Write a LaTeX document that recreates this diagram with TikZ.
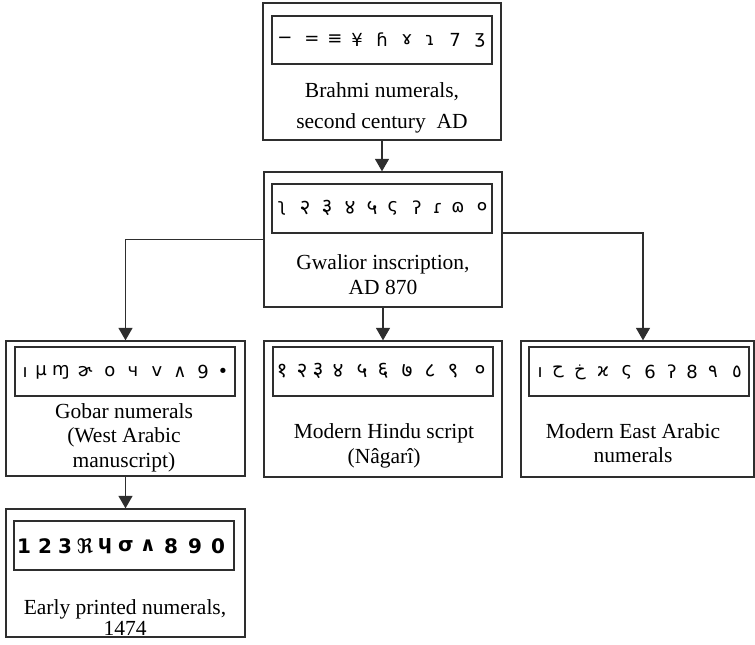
\documentclass[tikz,border=0pt]{standalone}
\usepackage{fontspec}
\setmainfont{Liberation Serif}
\newfontfamily\dvfont[Script=Devanagari]{Noto Sans}
\newfontfamily\djfont{DejaVu Sans}
\newfontfamily\arfont[Script=Arabic]{DejaVu Sans}
\usetikzlibrary{arrows.meta}
\definecolor{ln}{HTML}{2E2E2E}
\tikzset{
  box/.style={draw=ln, line width=1.3pt, inner sep=0pt},
  lbl/.style={anchor=base, inner sep=0pt, font=\fontsize{21.5}{24}\selectfont},
  glyph/.style={inner sep=0pt, font=\djfont\fontsize{18}{20}\selectfont},
  dglyph/.style={inner sep=0pt, font=\dvfont\fontsize{21}{22}\selectfont},
  aglyph/.style={inner sep=0pt, font=\arfont\fontsize{18}{20}\selectfont},
  eglyph/.style={inner sep=0pt, font=\djfont\bfseries\fontsize{20}{22}\selectfont},
  arr/.style={draw=ln, line width=1.3pt, -{Triangle[length=12.5pt,width=14pt]}}
}
\begin{document}
\begin{tikzpicture}[x=1pt,y=-1pt]
\useasboundingbox (0,0) rectangle (755,645);

% --- Brahmi
\node[box, minimum width=238pt, minimum height=137pt] (b1) at (382,71.5) {};
\node[box, minimum width=220pt, minimum height=48pt] (b1i) at (382,40) {};
\foreach \x/\g [count=\i] in {285/{−},312/{=},335/{≡},357/{¥},382/{ɦ},407/{ɤ},430/{ɿ},455/{7},480/{ʒ}}
  \node[glyph] (bg\i) at (\x,40) {\g};
\node[lbl] (b1t1) at (382,97) {Brahmi numerals,};
\node[lbl] (b1t2) at (382,128) {second century~~AD};

% --- Gwalior
\node[box, minimum width=238pt, minimum height=135pt] (b2) at (383,239.5) {};
\node[box, minimum width=220pt, minimum height=49pt] (b2i) at (382,208.5) {};
\node[glyph] (gw1) at (282,208) {ʅ};
\node[dglyph] (gw2) at (305,208) {२};
\node[dglyph] (gw3) at (327,208) {३};
\node[dglyph] (gw4) at (350,208) {४};
\node[dglyph] (gw5) at (372,208) {५};
\node[glyph] (gw6) at (393,208) {ς};
\node[glyph] (gw7) at (417,208) {ʔ};
\node[glyph] (gw8) at (438,208) {ɾ};
\node[glyph] (gw9) at (458,208) {ɷ};
\node[dglyph] (gw10) at (482,208) {०};
\node[lbl] (b2t1) at (383,269) {Gwalior inscription,};
\node[lbl] (b2t2) at (383,294) {AD 870};

% --- Gobar
\node[box, minimum width=239pt, minimum height=135pt] (gob) at (125.5,408.5) {};
\node[box, minimum width=220pt, minimum height=49pt] (gobi) at (125,371.5) {};
\foreach \x/\g [count=\i] in {25/{ı},41/{μ},61/{ɱ},85/{ɚ},110/{o},133/{ч},157/{v},180/{∧},203/{9},223/{∙}}
  \node[glyph] (gg\i) at (\x,372) {\g};
\node[lbl] (gt1) at (124,418) {Gobar numerals};
\node[lbl] (gt2) at (124,442) {(West Arabic};
\node[lbl] (gt3) at (124,467) {manuscript)};

% --- Nagari
\node[box, minimum width=238pt, minimum height=136pt] (nag) at (383,409) {};
\node[box, minimum width=220pt, minimum height=49pt] (nagi) at (383,371.5) {};
\foreach \x/\g [count=\i] in {282/{१},302/{२},318/{३},338/{४},362/{५},383/{६},407/{७},430/{८},453/{९},480/{०}}
  \node[dglyph] (ng\i) at (\x,371) {\g};
\node[lbl] (nt1) at (384,438) {Modern Hindu script};
\node[lbl] (nt2) at (384,463) {(Nâgarî)};

% --- East Arabic
\node[box, minimum width=233pt, minimum height=136pt] (east) at (637.5,409) {};
\node[box, minimum width=220pt, minimum height=49pt] (easti) at (639,371.5) {};
\node[glyph] (ea1) at (540,372) {ı};
\node[aglyph] (ea2) at (558,372) {ح};
\node[aglyph] (ea3) at (580,372) {خ};
\node[glyph] (ea4) at (603,372) {ϰ};
\node[glyph] (ea5) at (627,372) {ς};
\node[glyph] (ea6) at (650,372) {6};
\node[glyph] (ea7) at (672,372) {ʔ};
\node[glyph] (ea8) at (692,372) {8};
\node[aglyph] (ea9) at (713,372) {۹};
\node[aglyph] (ea10) at (737,372) {٥};
\node[lbl] (et1) at (633,438) {Modern East Arabic};
\node[lbl] (et2) at (633,462) {numerals};

% --- Early printed
\node[box, minimum width=239pt, minimum height=128pt] (early) at (125.5,573) {};
\node[box, minimum width=220pt, minimum height=49pt] (earlyi) at (124,545.5) {};
\foreach \x/\g [count=\i] in {24/{1},45/{2},65/{3},85/{ℜ},105/{ɥ},126/{σ},148/{∧},171/{8},195/{9},218/{0}}
  \node[eglyph] (el\i) at (\x,546) {\g};
\node[lbl] (lt1) at (125,614) {Early printed numerals,};
\node[lbl] (lt2) at (125,635) {1474};

% --- connectors
\draw[arr] (b1.south) -- (b1.south |- b2.north);
\draw[arr] (b2.west) -| (gob.north);
\draw[arr] ([yshift=6.5pt]b2.east) -| ([xshift=5.5pt]east.north);
\draw[arr] (b2.south) -- (nag.north);
\draw[arr] (gob.south) -- (early.north);
\end{tikzpicture}
\end{document}
